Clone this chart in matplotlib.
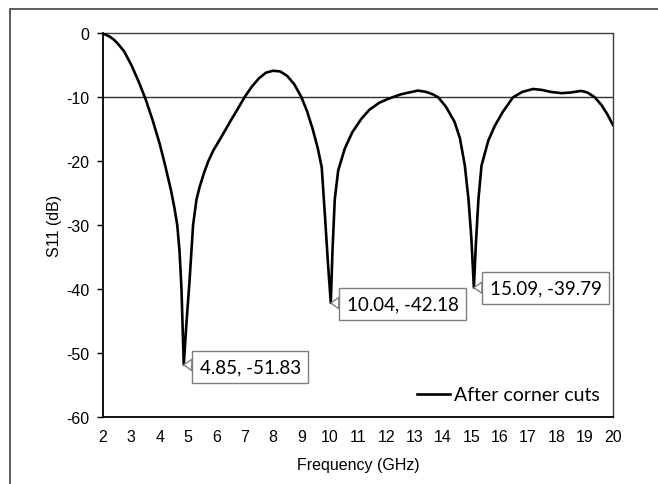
import matplotlib
matplotlib.use("Agg")
import matplotlib.pyplot as plt
from matplotlib.patches import Rectangle

plt.rcParams["axes.unicode_minus"] = False

# S11
freq = [2.0, 2.12, 2.25, 2.4, 2.55, 2.75, 3.0, 3.25, 3.5, 3.75, 4.0, 4.2, 4.4, 4.52, 4.62,
        4.7, 4.77, 4.85, 4.95, 5.05, 5.18, 5.3, 5.42, 5.57, 5.72, 5.9, 6.13,
        6.3, 6.48, 6.75, 7.0, 7.25, 7.5, 7.75, 8.0, 8.25, 8.5, 8.75, 9.0, 9.2,
        9.4, 9.58, 9.72, 9.84, 9.94, 10.04, 10.1, 10.18, 10.3, 10.53, 10.8,
        11.12, 11.4, 11.75, 12.06, 12.5, 12.8, 13.12, 13.4, 13.65, 13.83, 14.1,
        14.41, 14.6, 14.77, 14.9, 15.0, 15.09, 15.16, 15.25, 15.36, 15.6, 15.83,
        16.1, 16.47, 16.8, 17.18, 17.5, 17.8, 18.18, 18.5, 18.88, 19.1, 19.36,
        19.6, 19.8, 20.0]
s11 = [-0.1, -0.3, -0.6, -1.1, -1.8, -2.9, -5.0, -7.5, -10.3, -13.6, -17.3, -20.8, -24.6, -27.3, -30.0,
       -34.0, -40.0, -51.83, -45.0, -39.0, -30.0, -26.0, -23.9, -21.8, -20.0, -18.3, -16.6,
       -15.3, -13.9, -11.9, -10.0, -8.4, -7.1, -6.2, -5.9, -6.0, -6.7, -8.0, -10.0, -12.2,
       -15.0, -18.0, -21.0, -29.0, -36.0, -42.18, -34.0, -26.0, -21.5, -18.1, -15.5,
       -13.4, -12.0, -10.9, -10.3, -9.6, -9.3, -9.0, -9.2, -9.6, -10.05, -11.5,
       -13.9, -16.5, -20.7, -26.0, -32.0, -39.79, -33.0, -26.0, -20.7, -16.8, -14.5,
       -12.4, -10.05, -9.2, -8.75, -8.9, -9.2, -9.4, -9.3, -9.05, -9.3, -10.05,
       -11.3, -12.7, -14.4]

# marked minima
dips_f = [4.85, 10.04, 15.09]
dips_s = [-51.83, -42.18, -39.79]
dip_dy = [-2, -1, 0]  # pixel offset of the callout box

fig = plt.figure(figsize=(6.58, 4.85), dpi=100)
# outer chart frame
fig.patches.append(Rectangle((10 / 658, -0.1), 1.2, 1 - 10 / 485 + 0.1,
                             transform=fig.transFigure, fill=False,
                             ec="#404040", lw=1.2))
ax = fig.add_axes([103 / 658, 1 - 418 / 485, 510 / 658, 384 / 485])

ax.plot(freq, s11, color="black", lw=1.9, label="After corner cuts", zorder=3,
        solid_joinstyle="round")
ax.axhline(-10, color="#303030", lw=1.0, zorder=2)

ax.set_xlim(2, 20)
ax.set_ylim(-60, 0)
ax.set_xticks(range(2, 21))
ax.set_yticks(range(-60, 1, 10))

tick_font = "Liberation Sans"
for lbl in ax.get_xticklabels() + ax.get_yticklabels():
    lbl.set_fontfamily(tick_font)
ax.tick_params(axis="x", length=0, pad=9, labelsize=11.5)
ax.tick_params(axis="y", length=4, width=1, pad=6, labelsize=11.5, direction="out")

ax.set_xlabel("Frequency (GHz)", fontfamily=tick_font, fontsize=11.5, labelpad=9)
ax.set_ylabel("S11 (dB)", fontfamily=tick_font, fontsize=11.5, labelpad=3)

for side in ["left", "bottom"]:
    ax.spines[side].set_color("black")
    ax.spines[side].set_linewidth(1.3)
for side in ["top", "right"]:
    ax.spines[side].set_color("#404040")
    ax.spines[side].set_linewidth(1.0)

for f, s, dy in zip(dips_f, dips_s, dip_dy):
    ax.annotate(f"{f:.2f}, {s:.2f}", xy=(f, s), xytext=(16, dy),
                textcoords="offset pixels", ha="left", va="center",
                fontsize=13.5, fontfamily="Lato", zorder=5,
                bbox=dict(boxstyle="square,pad=0.4", fc="white", ec="#7f7f7f", lw=1),
                arrowprops=dict(arrowstyle="wedge,tail_width=0.6", fc="white",
                                ec="#7f7f7f", lw=1, shrinkA=0, shrinkB=0))

leg = ax.legend(loc="lower right", frameon=False, handlelength=1.7,
                handletextpad=0.2, borderaxespad=0.3,
                prop={"family": "Lato", "size": 14})

fig.savefig("out.png", dpi=100)
